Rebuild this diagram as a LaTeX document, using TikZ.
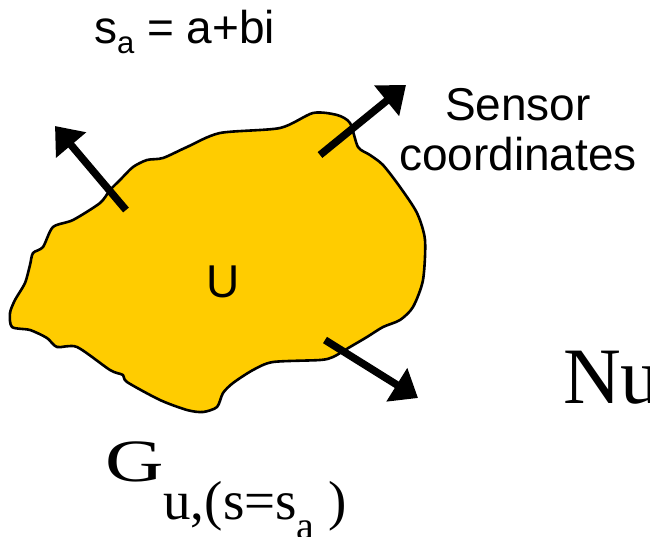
\documentclass[tikz,border=0pt]{standalone}
\usepackage{fontspec}
\setmainfont{Liberation Serif}
\newfontfamily\arialfont{Liberation Sans}
\usetikzlibrary{arrows.meta}
\definecolor{blobyellow}{RGB}{255,204,0}

\begin{document}
\begin{tikzpicture}[
        x=1pt, y=-1pt,
        every node/.style={inner sep=0pt, outer sep=0pt},
        blob/.style={
            draw=black, line width=2.6pt,
            fill=blobyellow, line join=round
        },
        sensorarr/.style={-{Triangle[length=25pt,width=38pt]}, line width=7.5pt, black},
        sanslabel/.style={font=\arialfont\fontsize{46}{50}\selectfont},
        seriflabel/.style={font=\fontsize{80}{80}\selectfont}
    ]
    \useasboundingbox (0,0) rectangle (650,536);
    \clip (0,0) rectangle (650,536);

    % region U
    \draw[blob] plot[smooth cycle, tension=0.45] coordinates {
        (12,327) (10,313) (15,300) (25,283) (30,265) (33,253) (43,247)
        (53,227) (73,220) (100,203) (110,190) (120,180) (133,167) (147,160)
        (163,158) (187,147) (220,133) (280,128) (313,113) (337,115) (350,123)
        (358,147) (370,155) (383,165) (400,187) (417,213) (425,240) (423,280)
        (413,307) (400,320) (383,327) (367,337) (350,347) (333,357) (320,360)
        (273,362) (253,370) (233,383) (223,393) (217,407) (203,412) (187,410)
        (160,400) (127,382) (123,375) (110,370) (77,347) (57,347) (47,338)
        (30,330)};

    \node[sanslabel, anchor=base] (ulabel) at (223,297) {U};

    % sensor arrows
    \coordinate (s1a) at (126,210);
    \coordinate (s1b) at (55,126);
    \coordinate (s2a) at (320,155);
    \coordinate (s2b) at (406,85);
    \coordinate (s3a) at (325,340);
    \coordinate (s3b) at (418,398);
    \draw[sensorarr] (s1a) -- (s1b);
    \draw[sensorarr] (s2a) -- (s2b);
    \draw[sensorarr] (s3a) -- (s3b);

    \node[anchor=base west, font=\arialfont\fontsize{46}{46}\selectfont] (sa) at (94,43)
        {s\raisebox{-10pt}{\fontsize{31}{31}\selectfont a} = a+bi};
    \node[sanslabel, align=center, anchor=base] (sensor) at (518,170) {Sensor\\coordinates};
    \node[seriflabel, anchor=base west] (nu) at (563,403) {Nu};
    \node[anchor=base west, font=\fontsize{60}{60}\selectfont] (gu) at (105,481)
        {\scalebox{1.35}[1]{G}\raisebox{-38pt}{\fontsize{55}{55}\selectfont u,(s=s\raisebox{-20pt}{\fontsize{40}{40}\selectfont a} )}};

\end{tikzpicture}
\end{document}
